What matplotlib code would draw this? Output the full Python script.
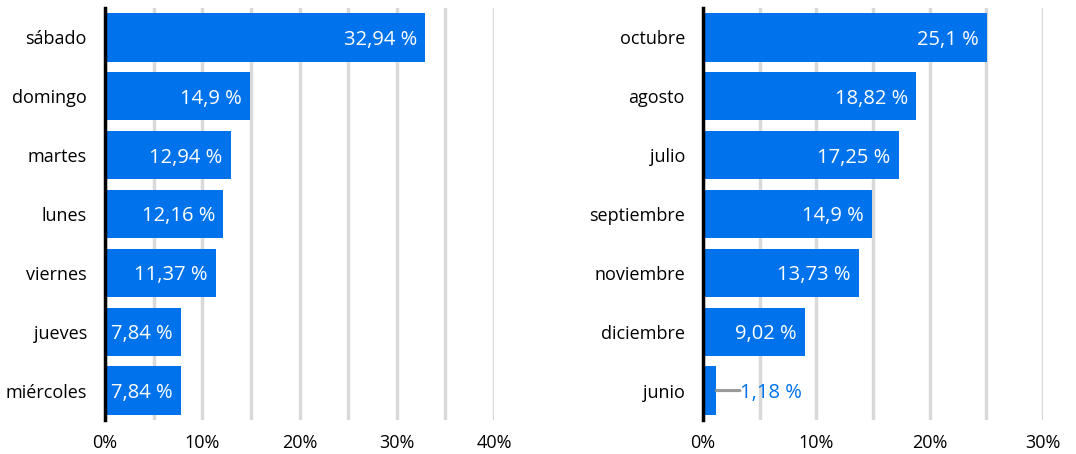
import matplotlib
matplotlib.use("Agg")
import matplotlib.pyplot as plt

plt.rcParams["font.family"] = ["Open Sans", "DejaVu Sans"]

# Días de la semana
dias = ["sábado", "domingo", "martes", "lunes", "viernes", "jueves", "miércoles"]
dias_pct = [32.94, 14.9, 12.94, 12.16, 11.37, 7.84, 7.84]

# Meses
meses = ["octubre", "agosto", "julio", "septiembre", "noviembre", "diciembre", "junio"]
meses_pct = [25.1, 18.82, 17.25, 14.9, 13.73, 9.02, 1.18]

AZUL = "#0073ec"
GRIS = "#d9d9d9"


def fmt(v):
    s = f"{v:.2f}".rstrip("0").rstrip(".")
    return s.replace(".", ",") + " %"


def panel(ax, cats, vals, xmax):
    y = list(range(len(cats)))
    ax.barh(y, vals, height=0.82, color=AZUL, zorder=3)
    ax.set_ylim(len(cats) - 0.5, -0.5)
    ax.set_xlim(0, xmax)
    ax.set_yticks(y)
    ax.set_yticklabels(cats, fontsize=13, va="center_baseline")
    ax.set_xticks(range(0, xmax + 1, 10))
    ax.set_xticklabels([f"{t}%" for t in range(0, xmax + 1, 10)], fontsize=13)
    ax.set_xticks(range(5, xmax + 1, 10), minor=True)
    ax.grid(axis="x", which="both", color=GRIS, linewidth=2.5, zorder=0)
    ax.tick_params(axis="y", which="both", length=0, pad=13)
    ax.tick_params(axis="x", which="both", length=0, pad=10)
    for s in ["top", "right", "bottom"]:
        ax.spines[s].set_visible(False)
    ax.spines["left"].set_linewidth(2.5)
    ax.spines["left"].set_zorder(5)
    for yi, v in zip(y, vals):
        if v > 5:
            ax.annotate(fmt(v), (v, yi), xytext=(-6, 0), textcoords="offset points",
                        ha="right", va="center_baseline", color="white",
                        fontsize=14.5, zorder=4)
        else:
            # linea guia + etiqueta fuera de la barra
            ax.annotate("", (v, yi), xytext=(17, 0), textcoords="offset points",
                        arrowprops=dict(arrowstyle="-", color="#999999", lw=2.2,
                                        shrinkA=0, shrinkB=0))
            ax.annotate(fmt(v), (v, yi), xytext=(17, 0), textcoords="offset points",
                        ha="left", va="center_baseline", color=AZUL, fontsize=14.5,
                        zorder=4)


fig = plt.figure(figsize=(10.76, 4.54), dpi=100)
ax1 = fig.add_axes([105 / 1076, 34 / 454, 389 / 1076, 412 / 454])
ax2 = fig.add_axes([703 / 1076, 34 / 454, 340 / 1076, 412 / 454])
panel(ax1, dias, dias_pct, 40)
panel(ax2, meses, meses_pct, 30)

fig.savefig("out.png", dpi=100)
